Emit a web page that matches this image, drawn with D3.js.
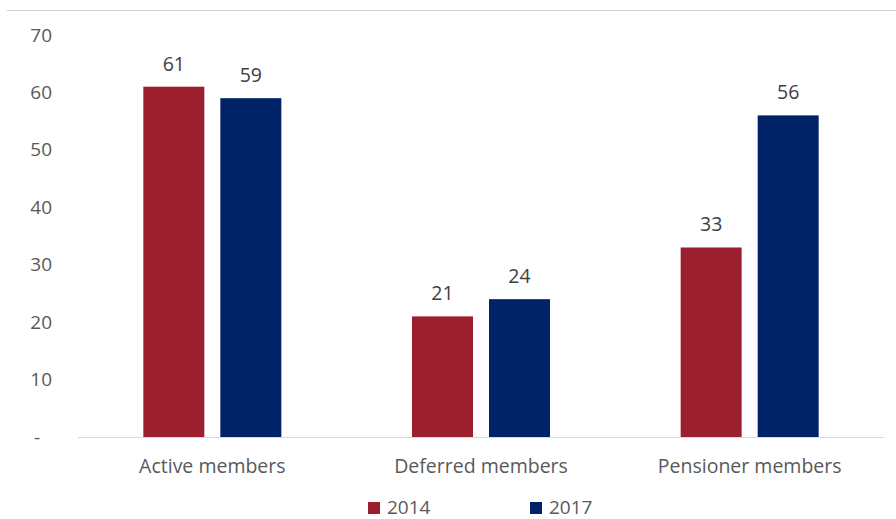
<!DOCTYPE html>
<html>
<head>
<meta charset="utf-8">
<script src="https://cdn.jsdelivr.net/npm/d3@7"></script>
<style>
  body { margin: 0; background: #fff; overflow: hidden; }
  text { font-family: "Open Sans", "Liberation Sans", sans-serif; }
</style>
</head>
<body>
<div id="chart"></div>
<script>
var categories = ["Active members", "Deferred members", "Pensioner members"];
var series = ["2014", "2017"];
var values2014 = [61, 21, 33];
var values2017 = [59, 24, 56];
var yTicks = [0, 10, 20, 30, 40, 50, 60, 70];
var colors = ["#9b1f2e", "#002266"];

var imgWidth = 896, imgHeight = 519;
var margin = {top: 35, right: 12, bottom: 82, left: 78},
    width = imgWidth - margin.left - margin.right,
    height = imgHeight - margin.top - margin.bottom;

var svg = d3.select("#chart").append("svg")
    .attr("width", imgWidth)
    .attr("height", imgHeight)
    .style("display", "block");

// top border line
svg.append("line")
    .attr("x1", 7).attr("x2", imgWidth)
    .attr("y1", 10.5).attr("y2", 10.5)
    .attr("stroke", "#d0d0d0");

var g = svg.append("g")
    .attr("transform", "translate(" + margin.left + "," + margin.top + ")");

var x0 = d3.scaleBand().domain(categories).range([0, width]).padding(0);
var groupW = 138;
var x1 = d3.scaleBand().domain(series).range([0, groupW]).paddingInner(0.208);
var y = d3.scaleLinear().domain([0, 70]).range([height, 0]);

// y axis labels
var yAxis = g.append("g")
    .attr("class", "axis axis--y")
    .call(d3.axisLeft(y).tickValues(yTicks).tickSize(0).tickPadding(26)
      .tickFormat(function(d) { return d === 0 ? "-" : d; }));
yAxis.select(".domain").remove();
yAxis.selectAll("text")
    .attr("fill", "#595959")
    .style("font-size", "19px")
    .attr("dx", function(d) { return d === 0 ? -12 : 0; });

// baseline
g.append("line")
    .attr("x1", 0).attr("x2", width)
    .attr("y1", height + 0.5).attr("y2", height + 0.5)
    .attr("stroke", "#d9d9d9");

// x axis labels
var xAxis = g.append("g")
    .attr("class", "axis axis--x")
    .attr("transform", "translate(0," + height + ")")
    .call(d3.axisBottom(x0).tickSize(0).tickPadding(22));
xAxis.select(".domain").remove();
xAxis.selectAll("text")
    .attr("fill", "#595959")
    .style("font-size", "19.5px");

var data = categories.map(function(c, i) {
  return {cat: c, vals: [
    {s: series[0], v: values2014[i]},
    {s: series[1], v: values2017[i]}
  ]};
});

var groups = g.selectAll(".group")
    .data(data)
    .enter().append("g")
    .attr("class", "group")
    .attr("transform", function(d) {
      return "translate(" + (x0(d.cat) + (x0.bandwidth() - groupW) / 2) + ",0)";
    });

groups.selectAll("rect")
    .data(function(d) { return d.vals; })
    .enter().append("rect")
    .attr("x", function(d) { return x1(d.s); })
    .attr("y", function(d) { return y(d.v); })
    .attr("width", x1.bandwidth())
    .attr("height", function(d) { return height - y(d.v); })
    .attr("fill", function(d, i) { return colors[i]; });

groups.selectAll(".value")
    .data(function(d) { return d.vals; })
    .enter().append("text")
    .attr("class", "value")
    .attr("x", function(d) { return x1(d.s) + x1.bandwidth() / 2; })
    .attr("y", function(d) { return y(d.v) - 16; })
    .attr("text-anchor", "middle")
    .attr("fill", "#404040")
    .style("font-size", "19.5px")
    .text(function(d) { return d.v; });

// legend
var legend = svg.append("g")
    .attr("transform", "translate(368,502)");
var item = legend.selectAll(".item")
    .data(series)
    .enter().append("g")
    .attr("class", "item")
    .attr("transform", function(d, i) { return "translate(" + (i * 162) + ",0)"; });
item.append("rect")
    .attr("width", 12).attr("height", 12)
    .attr("fill", function(d, i) { return colors[i]; });
item.append("text")
    .attr("x", 19).attr("y", 12)
    .attr("fill", "#595959")
    .style("font-size", "19px")
    .text(function(d) { return d; });
</script>
</body>
</html>
